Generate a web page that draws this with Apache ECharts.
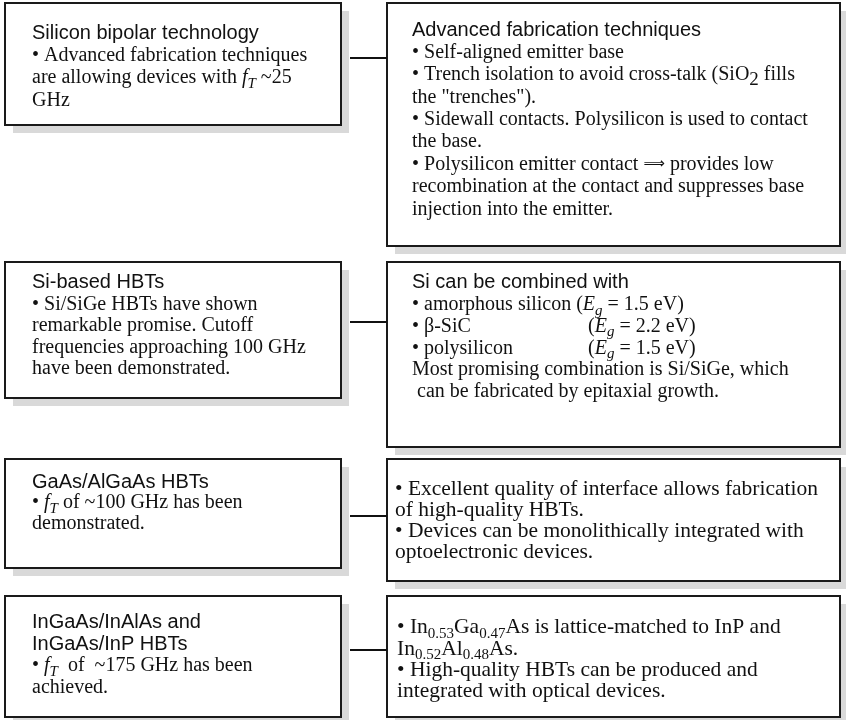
<!DOCTYPE html>
<html><head><meta charset="utf-8">
<script src="https://cdn.jsdelivr.net/npm/echarts@6/dist/echarts.min.js"></script>
<style>html,body{margin:0;padding:0;background:#fff}#c{width:846px;height:720px}</style>
</head><body><div id="c"></div>
<script>
// ---- content (text only) ----
const leftTitles = [
  ["Silicon bipolar technology"],
  ["Si-based HBTs"],
  ["GaAs/AlGaAs HBTs"],
  ["InGaAs/InAlAs and", "InGaAs/InP HBTs"]
];
const leftBodies = [
  ["• Advanced fabrication techniques", "are allowing devices with {i|f}{is|T} ~25", "GHz"],
  ["• Si/SiGe HBTs have shown", "remarkable promise. Cutoff", "frequencies approaching 100 GHz", "have been demonstrated."],
  ["• {i|f}{is|T} of ~100 GHz has been", "demonstrated."],
  ["• {i|f}{is|T}  of  ~175 GHz has been", "achieved."]
];
const rightTitles = [
  ["Advanced fabrication techniques"],
  ["Si can be combined with"],
  [],
  []
];
const rightBodies = [
  ["• Self-aligned emitter base",
   "• Trench isolation to avoid cross-talk (SiO{s2|2} fills",
   "the \"trenches\").",
   "• Sidewall contacts. Polysilicon is used to contact",
   "the base.",
   "• Polysilicon emitter contact {ar|\u27F9} provides low",
   "recombination at the contact and suppresses base",
   "injection into the emitter."],
  ["• amorphous silicon ({i|E}{is|g} = 1.5 eV)",
   "{w|• β-SiC}({i|E}{is|g} = 2.2 eV)",
   "{w|• polysilicon}({i|E}{is|g} = 1.5 eV)",
   "Most promising combination is Si/SiGe, which",
   " can be fabricated by epitaxial growth."],
  ["• Excellent quality of interface allows fabrication",
   "of high-quality HBTs.",
   "• Devices can be monolithically integrated with",
   "optoelectronic devices."],
  ["• In{s|0.53}Ga{s|0.47}As is lattice-matched to InP and",
   "In{s|0.52}Al{s|0.48}As.",
   "• High-quality HBTs can be produced and",
   "integrated with optical devices."]
];

// ---- layout (pixel space of the hidden axes) ----
const leftLayout = [
  {x0: 5, y0: 3,   x1: 341, y1: 125, tx: 32, ty: 22,  fs: 20, lh: 22.4},
  {x0: 5, y0: 262, x1: 341, y1: 398, tx: 32, ty: 272, fs: 20, lh: 21.5},
  {x0: 5, y0: 459, x1: 341, y1: 568, tx: 32, ty: 472, fs: 20, lh: 20.6},
  {x0: 5, y0: 596, x1: 341, y1: 717, tx: 32, ty: 611, fs: 20, lh: 22}
];
const rightLayout = [
  {x0: 387, y0: 3,   x1: 840, y1: 246, tx: 412, ty: 19,  fs: 20, lh: 22.4, cy: 58},
  {x0: 387, y0: 262, x1: 840, y1: 447, tx: 412, ty: 272, fs: 20, lh: 21.8, cy: 322},
  {x0: 387, y0: 459, x1: 840, y1: 581, tx: 395, ty: 479, fs: 21.5, lh: 21, cy: 516},
  {x0: 387, y0: 596, x1: 840, y1: 717, tx: 397, ty: 617, fs: 21.5, lh: 21.3, cy: 650}
];

const SERIF = "'Liberation Serif','Times New Roman',Times,serif";
const SANS = "'Liberation Sans',Arial,Helvetica,sans-serif";
function makeRich(fs, lh) {
  const sub = Math.round(fs * 0.72);
  const pad = Math.round(fs * 0.6);
  return {
    t:  {fontFamily: SANS, fontSize: 20, lineHeight: lh, fill: '#111'},
    i:  {fontFamily: SERIF, fontStyle: 'italic', fontSize: fs, lineHeight: lh, fill: '#111'},
    is: {fontFamily: SERIF, fontStyle: 'italic', fontSize: sub + 1, lineHeight: lh, padding: [pad, 0, 0, 0], fill: '#111'},
    s:  {fontFamily: SERIF, fontSize: sub, lineHeight: lh, padding: [pad, 0, 0, 0], fill: '#111'},
    s2: {fontFamily: SERIF, fontSize: 19, lineHeight: lh, padding: [10, 0, 0, 0], fill: '#111'},
    ar: {fontFamily: "'DejaVu Sans',sans-serif", fontSize: 15, lineHeight: lh, fill: '#111'},
    w:  {fontFamily: SERIF, fontSize: fs, lineHeight: lh, width: 176, fill: '#111'}
  };
}

function buildText(titles, body) {
  return titles.map(t => '{t|' + t + '}').concat(body).join('\n');
}

const boxes = [];
leftLayout.forEach((L, i) => boxes.push({L: L, text: buildText(leftTitles[i], leftBodies[i]), conn: null}));
rightLayout.forEach((L, i) => boxes.push({L: L, text: buildText(rightTitles[i], rightBodies[i]), conn: {x0: leftLayout[i].x1 + 9, x1: L.x0, y: L.cy}}));

const chart = echarts.init(document.getElementById('c'), null, {renderer: 'canvas'});
chart.setOption({
  animation: false,
  backgroundColor: '#ffffff',
  grid: {left: 0, right: 0, top: 0, bottom: 0},
  xAxis: {type: 'value', min: 0, max: 846, show: false},
  yAxis: {type: 'value', min: 0, max: 720, inverse: true, show: false},
  series: [{
    type: 'custom',
    coordinateSystem: 'cartesian2d',
    clip: false,
    encode: {x: [0, 2], y: [1, 3]},
    data: boxes.map((b, i) => [b.L.x0, b.L.y0, b.L.x1, b.L.y1, i]),
    renderItem: function (params, api) {
      const b = boxes[api.value(4)];
      const p0 = api.coord([api.value(0), api.value(1)]);
      const p1 = api.coord([api.value(2), api.value(3)]);
      const w = p1[0] - p0[0], h = p1[1] - p0[1];
      const tp = api.coord([b.L.tx, b.L.ty]);
      const children = [
        {type: 'rect', shape: {x: p0[0] + 8, y: p0[1] + 8, width: w, height: h}, style: {fill: '#d9d9d9'}},
        {type: 'rect', shape: {x: p0[0], y: p0[1], width: w, height: h}, style: {fill: '#ffffff', stroke: '#1a1a1a', lineWidth: 2}},
        {type: 'text', x: tp[0], y: tp[1], style: {
          text: b.text, rich: makeRich(b.L.fs, b.L.lh), fontFamily: SERIF, fontSize: b.L.fs, lineHeight: b.L.lh,
          fill: '#111', verticalAlign: 'top', align: 'left'
        }}
      ];
      if (b.conn) {
        const c0 = api.coord([b.conn.x0, b.conn.y]);
        const c1 = api.coord([b.conn.x1, b.conn.y]);
        children.push({type: 'line', shape: {x1: c0[0], y1: c0[1], x2: c1[0], y2: c1[1]}, style: {stroke: '#111', lineWidth: 2}});
      }
      return {type: 'group', children: children};
    }
  }]
});
</script></body></html>
